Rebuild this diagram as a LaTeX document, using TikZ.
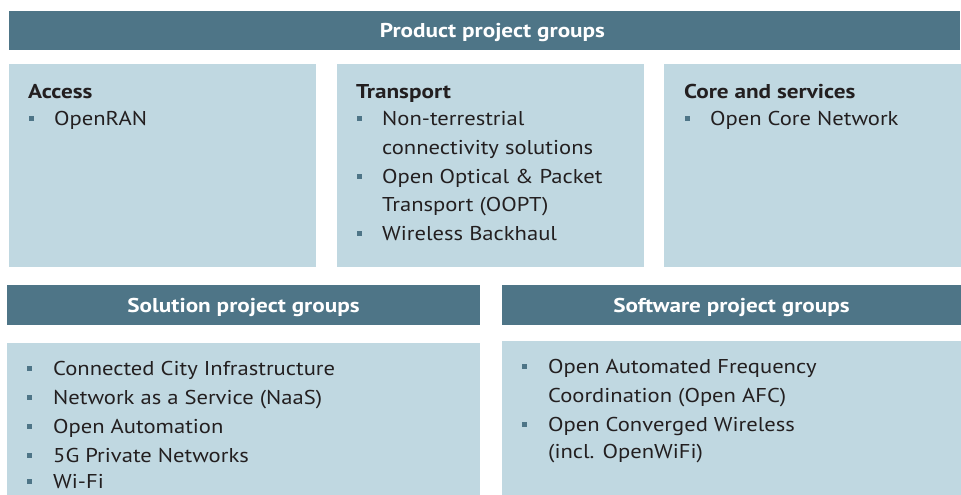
\documentclass[tikz,border=0pt]{standalone}
\usepackage{fontspec}
\setmainfont{PT Sans}[FakeStretch=1.13, BoldFeatures={FakeStretch=1.16}]
\definecolor{hdr}{HTML}{4E7587}
\definecolor{boxc}{HTML}{C0D8E1}
\definecolor{txt}{HTML}{231F20}
\tikzset{
  hdrbox/.style={fill=hdr, draw=none, inner sep=0pt, text=white, text height=14pt, text depth=0pt, font=\fontsize{20}{24}\selectfont\bfseries},
  hdrtext/.style={inner sep=0pt, text=white, text height=14pt, text depth=0pt, font=\fontsize{20}{24}\selectfont\bfseries},
  lightbox/.style={fill=boxc, draw=none, inner sep=0pt},
  ttl/.style={anchor=base west, inner sep=0pt, text=txt, font=\fontsize{20}{24}\selectfont\bfseries},
  itm/.style={anchor=base west, inner sep=0pt, text=txt, font=\fontsize{20}{24}\selectfont},
  blt/.style={fill=hdr, draw=none, inner sep=0pt, minimum size=5pt},
}
\begin{document}
\begin{tikzpicture}[x=1pt,y=-1pt]
\useasboundingbox (0,0) rectangle (961,495);
% headers
\node[hdrbox, minimum width=951pt, minimum height=39pt] (hp) at (484.5,30.5) {};
\node[hdrtext] (hpt) at ([xshift=8pt]hp.center) {Product project groups};
\node[hdrbox, minimum width=473pt, minimum height=40pt] (hs) at (243.5,305) {Solution project groups};
\node[hdrbox, minimum width=459pt, minimum height=40pt] (hw) at (731.5,305) {Software project groups};
% boxes
\node[lightbox, minimum width=307pt, minimum height=203pt] (ba) at (162.5,165.5) {};
\node[lightbox, minimum width=307pt, minimum height=203pt] (bt) at (490.5,165.5) {};
\node[lightbox, minimum width=297pt, minimum height=203pt] (bc) at (812.5,165.5) {};
\node[lightbox, minimum width=473pt, minimum height=152pt] (bs) at (243.5,419) {};
\node[lightbox, minimum width=459pt, minimum height=154pt] (bw) at (731.5,418) {};
% Access
\node[ttl] (ta) at (28,99) {Access};
\node[blt] (a1b) at (31,118) {};
\node[itm] (a1) at (54,125) {OpenRAN};
% Transport
\node[ttl] (tt) at (356,99) {Transport};
\node[blt] (t1b) at (359,118) {};
\node[itm] (t1) at (382,125) {Non-terrestrial};
\node[itm] (t1c) at (382,154) {connectivity solutions};
\node[blt] (t2b) at (359,176) {};
\node[itm] (t2) at (382,183) {Open Optical \& Packet};
\node[itm] (t2c) at (382,211) {Transport (OOPT)};
\node[blt] (t3b) at (359,233) {};
\node[itm] (t3) at (382,240) {Wireless Backhaul};
% Core
\node[ttl] (tc) at (684,99) {Core and services};
\node[blt] (c1b) at (687,118) {};
\node[itm] (c1) at (710,125) {Open Core Network};
% Solution
\node[blt] (s1b) at (29,368) {};
\node[itm] (s1) at (53,375) {Connected City Infrastructure};
\node[blt] (s2b) at (29,397) {};
\node[itm] (s2) at (53,404) {Network as a Service (NaaS)};
\node[blt] (s3b) at (29,426) {};
\node[itm] (s3) at (53,433) {Open Automation};
\node[blt] (s4b) at (29,455) {};
\node[itm] (s4) at (53,462) {5G Private Networks};
\node[blt] (s5b) at (29,481) {};
\node[itm] (s5) at (53,488) {Wi-Fi};
% Software
\node[blt] (w1b) at (524,366) {};
\node[itm] (w1) at (548,373) {Open Automated Frequency};
\node[itm] (w1c) at (548,402) {Coordination (Open AFC)};
\node[blt] (w2b) at (524,424) {};
\node[itm] (w2) at (548,431) {Open Converged Wireless};
\node[itm] (w2c) at (548,458) {(incl. OpenWiFi)};
\end{tikzpicture}
\end{document}
